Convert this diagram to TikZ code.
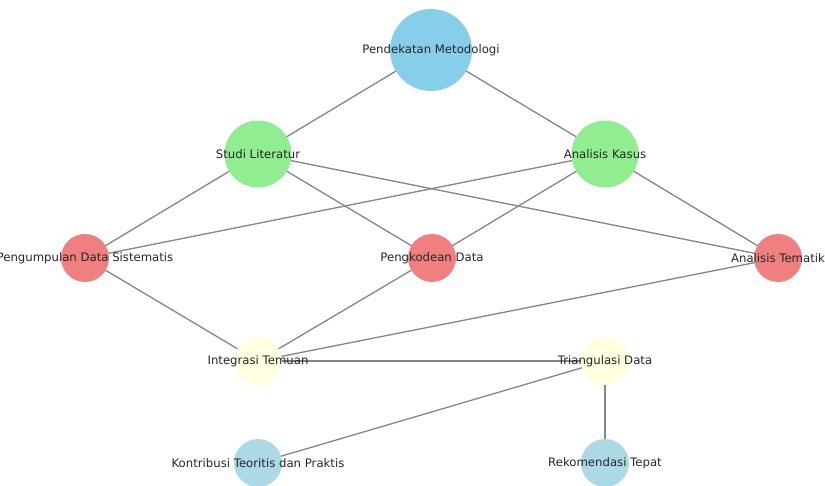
\documentclass[tikz,border=0pt]{standalone}
\usepackage{fontspec}
\setmainfont{DejaVu Sans}
\usetikzlibrary{backgrounds}
\definecolor{skyb}{HTML}{87CEEB}
\definecolor{lgreen}{HTML}{90EE90}
\definecolor{lcoral}{HTML}{F08080}
\definecolor{lyellow}{HTML}{FFFFE0}
\definecolor{lblue}{HTML}{ADD8E6}
\definecolor{edgegray}{HTML}{858585}
\tikzset{
  nd/.style={circle, inner sep=0pt, draw=none, fill=#1},
  big/.style={minimum size=82pt},
  mid/.style={minimum size=67pt},
  sml/.style={minimum size=48pt},
  lbl/.style={font=\fontsize{11.7pt}{14pt}\selectfont, text=black!85, inner sep=0pt},
  edge/.style={draw=edgegray, line width=1.3pt}
}
\begin{document}
\begin{tikzpicture}[x=1pt,y=-1pt]
\useasboundingbox (0,0) rectangle (825,486);
\clip (0,0) rectangle (825,486);
\node[nd=skyb, big] (pm) at (431,50) {};
\node[nd=lgreen, mid] (sl) at (258,154) {};
\node[nd=lgreen, mid] (ak) at (605,154) {};
\node[nd=lcoral, sml] (pds) at (85,258) {};
\node[nd=lcoral, sml] (pd) at (432,258) {};
\node[nd=lcoral, sml] (at) at (778,258) {};
\node[nd=lyellow, sml] (it) at (258,361) {};
\node[nd=lyellow, sml] (td) at (605,361) {};
\node[nd=lblue, sml] (ktp) at (258,463) {};
\node[nd=lblue, sml] (rt) at (605,463) {};
\begin{scope}[on background layer]
\draw[edge] (pm.center) -- (sl.center);
\draw[edge] (pm.center) -- (ak.center);
\draw[edge] (sl.center) -- (pds.center);
\draw[edge] (sl.center) -- (pd.center);
\draw[edge] (sl.center) -- (at.center);
\draw[edge] (ak.center) -- (pds.center);
\draw[edge] (ak.center) -- (pd.center);
\draw[edge] (ak.center) -- (at.center);
\draw[edge] (pds.center) -- (it.center);
\draw[edge] (pd.center) -- (it.center);
\draw[edge] (at.center) -- (it.center);
\draw[edge] (it.center) -- (td.center);
\draw[edge] (td.center) -- (ktp.center);
\draw[edge] (td.center) -- (rt.center);
\end{scope}
\node[lbl] at (pm) {Pendekatan Metodologi};
\node[lbl] at (sl) {Studi Literatur};
\node[lbl] at (ak) {Analisis Kasus};
\node[lbl] at (pds) {Pengumpulan Data Sistematis};
\node[lbl] at (pd) {Pengkodean Data};
\node[lbl] at (at) {Analisis Tematik};
\node[lbl] at (it) {Integrasi Temuan};
\node[lbl] at (td) {Triangulasi Data};
\node[lbl] at (ktp) {Kontribusi Teoritis dan Praktis};
\node[lbl] at (rt) {Rekomendasi Tepat};
\end{tikzpicture}
\end{document}
